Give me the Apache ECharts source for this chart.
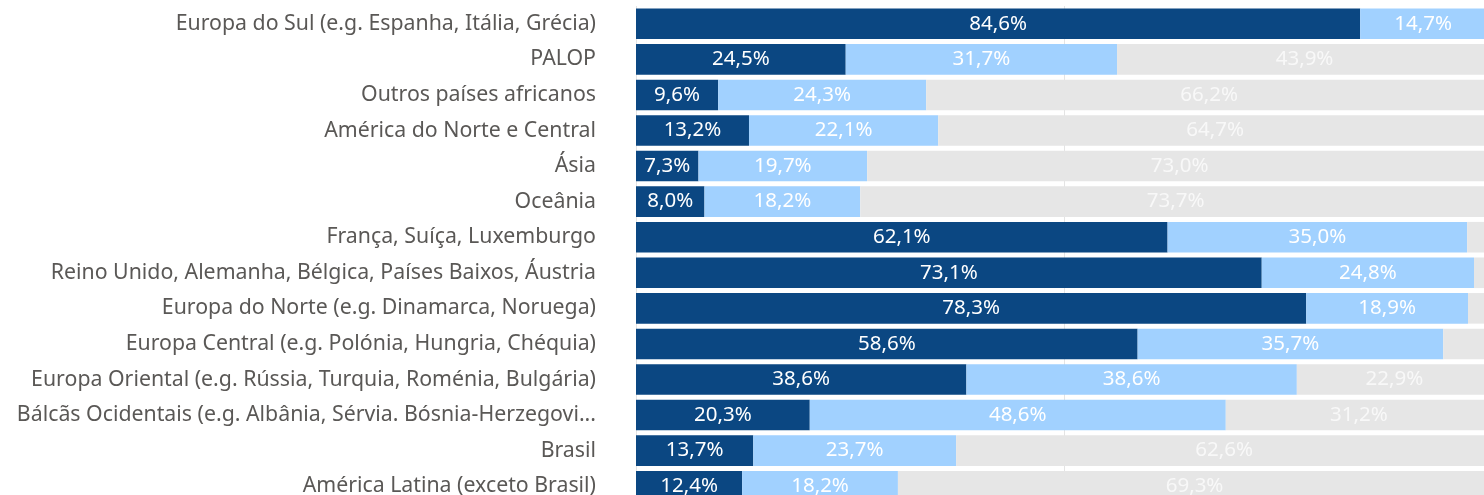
<!DOCTYPE html>
<html>
<head>
<meta charset="utf-8">
<script src="https://cdn.jsdelivr.net/npm/echarts@6/dist/echarts.min.js"></script>
<style>
  html, body { margin: 0; padding: 0; background: #fff; }
  #chart { width: 1484px; height: 495px; }
</style>
</head>
<body>
<div id="chart"></div>
<script>
// categorias (de cima para baixo)
const categories = [
  'Europa do Sul (e.g. Espanha, Itália, Grécia)',
  'PALOP',
  'Outros países africanos',
  'América do Norte e Central',
  'Ásia',
  'Oceânia',
  'França, Suíça, Luxemburgo',
  'Reino Unido, Alemanha, Bélgica, Países Baixos, Áustria',
  'Europa do Norte (e.g. Dinamarca, Noruega)',
  'Europa Central (e.g. Polónia, Hungria, Chéquia)',
  'Europa Oriental (e.g. Rússia, Turquia, Roménia, Bulgária)',
  'Bálcãs Ocidentais (e.g. Albânia, Sérvia. Bósnia-Herzegovi...',
  'Brasil',
  'América Latina (exceto Brasil)'
]

const darkValues = [84.6, 24.5, 9.6, 13.2, 7.3, 8.0, 62.1, 73.1, 78.3, 58.6, 38.6, 20.3, 13.7, 12.4]
const lightValues = [14.7, 31.7, 24.3, 22.1, 19.7, 18.2, 35.0, 24.8, 18.9, 35.7, 38.6, 48.6, 23.7, 18.2]
const greyValues = [0.7, 43.9, 66.2, 64.7, 73.0, 73.7, 2.9, 2.1, 2.8, 5.7, 22.9, 31.2, 62.6, 69.3]

const font = '"Noto Sans", "Open Sans", sans-serif'

// rótulo com vírgula decimal, escondido quando não cabe
const fmt = (p) => (p.value < 7 ? '' : p.value.toFixed(1).replace('.', ',') + '%')

const makeSeries = (name, data, color, labelColor) => ({
  name,
  type: 'bar',
  stack: 'total',
  data,
  barCategoryGap: '14%',
  itemStyle: { color },
  label: {
    show: true,
    position: 'inside',
    formatter: fmt,
    color: labelColor,
    fontFamily: font,
    fontSize: 20.5
  }
})

const chart = echarts.init(document.getElementById('chart'))
chart.setOption({
  animation: false,
  grid: { left: 636, top: 6, width: 856, height: 498, outerBoundsMode: 'none' },
  xAxis: {
    type: 'value',
    min: 0,
    max: 100,
    interval: 50,
    axisLabel: { show: false },
    axisLine: { show: false },
    axisTick: { show: false },
    splitLine: { lineStyle: { color: '#e4e4e4', width: 1 } }
  },
  yAxis: {
    type: 'category',
    inverse: true,
    data: categories,
    axisLine: { show: false },
    axisTick: { show: false },
    axisLabel: {
      margin: 40,
      color: '#5a5856',
      fontFamily: font,
      fontSize: 21.3
    }
  },
  series: [
    makeSeries('dark', darkValues, '#0b4782', '#ffffff'),
    makeSeries('light', lightValues, '#a1d1ff', '#ffffff'),
    makeSeries('grey', greyValues, '#e6e6e6', '#f8f8f8')
  ]
})
</script>
</body>
</html>
